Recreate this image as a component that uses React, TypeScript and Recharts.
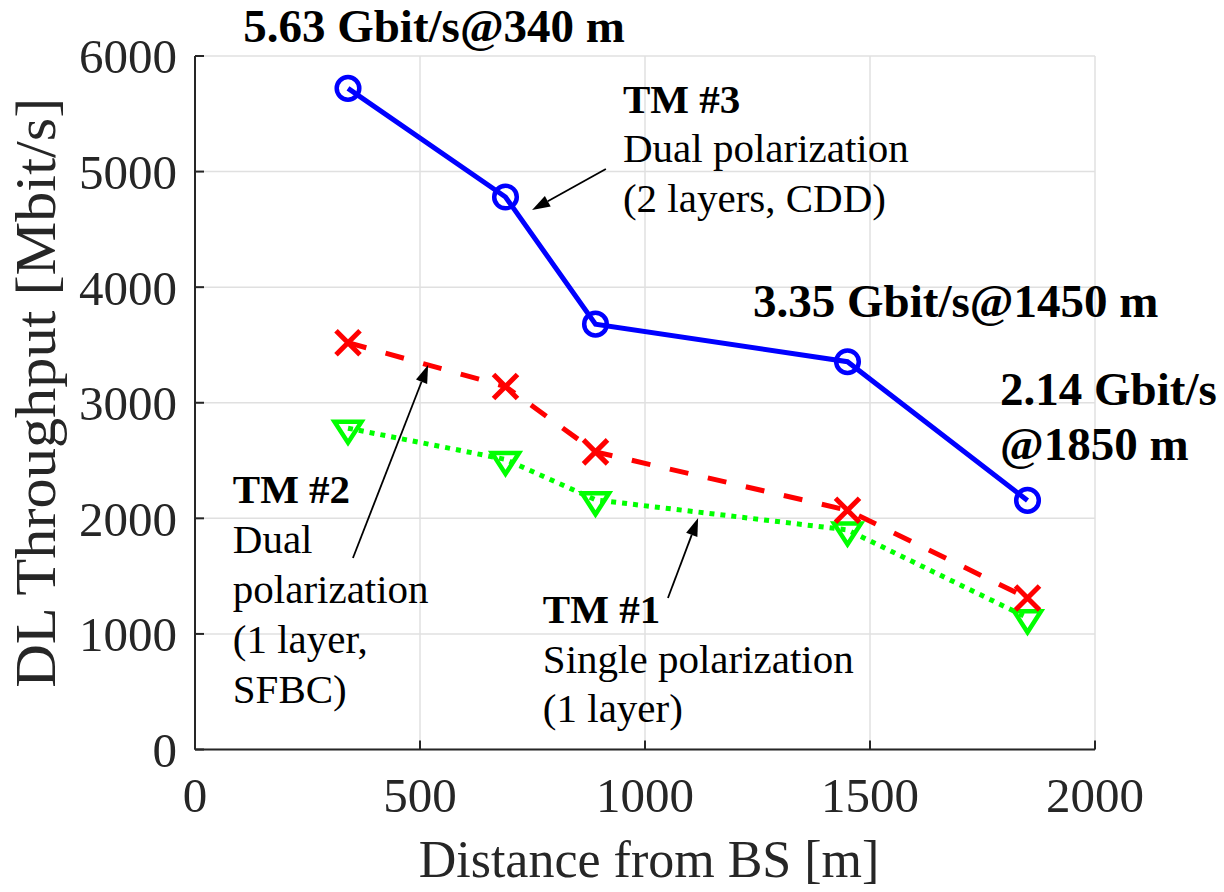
import React from "react";
import { CartesianGrid, Line, LineChart, ReferenceDot, ReferenceLine, XAxis, YAxis } from "recharts";

const distances = [340, 690, 890, 1450, 1850];
const tm3Throughput = [5720, 4780, 3680, 3355, 2155];
const tm2Throughput = [3520, 3140, 2575, 2070, 1310];
const tm1Throughput = [2780, 2510, 2160, 1900, 1140];

const xTicks = [0, 500, 1000, 1500, 2000];
const yTicks = [0, 1000, 2000, 3000, 4000, 5000, 6000];

type NoteLine = { text: string; bold?: boolean };
type Note = { x: number; y: number; size: number; gap: number; lines: NoteLine[] };

// text blocks, anchored at the first baseline (data coords)
const notes: Note[] = [
  { x: 107, y: 6121, size: 47, gap: 55, lines: [{ text: "5.63 Gbit/s@340 m", bold: true }] },
  { x: 1240, y: 3742, size: 47, gap: 55, lines: [{ text: "3.35 Gbit/s@1450 m", bold: true }] },
  {
    x: 1789, y: 2981, size: 47, gap: 55,
    lines: [{ text: "2.14 Gbit/s", bold: true }, { text: "@1850 m", bold: true }],
  },
  {
    x: 951, y: 5507, size: 41, gap: 49.5,
    lines: [{ text: "TM #3", bold: true }, { text: "Dual polarization" }, { text: "(2 layers, CDD)" }],
  },
  {
    x: 84, y: 2131, size: 41, gap: 50,
    lines: [
      { text: "TM #2", bold: true },
      { text: "Dual" },
      { text: "polarization" },
      { text: "(1 layer," },
      { text: "SFBC)" },
    ],
  },
  {
    x: 773, y: 1094, size: 41, gap: 49.5,
    lines: [{ text: "TM #1", bold: true }, { text: "Single polarization" }, { text: "(1 layer)" }],
  },
];

// arrows: [tail, tip]
const arrows = [
  [{ x: 913, y: 5023 }, { x: 749, y: 4668 }],
  [{ x: 351, y: 1657 }, { x: 518, y: 3327 }],
  [{ x: 1051, y: 1311 }, { x: 1118, y: 2003 }],
];

const data = distances.map((d, i) => ({
  distance: d,
  tm3: tm3Throughput[i],
  tm2: tm2Throughput[i],
  tm1: tm1Throughput[i],
}));

const FONT = '"Liberation Serif", "Times New Roman", serif';
const AXIS = "#262626";

function noteShape(note: Note) {
  return (props: any) => (
    <text x={props.cx} y={props.cy} fontFamily={FONT} fontSize={note.size} fill="#000">
      {note.lines.map((l, i) => (
        <tspan key={i} x={props.cx} dy={i === 0 ? 0 : note.gap} fontWeight={l.bold ? 700 : 400}>
          {l.text}
        </tspan>
      ))}
    </text>
  );
}

function arrowShape(props: any) {
  const { x1, y1, x2, y2 } = props;
  const a = Math.atan2(y2 - y1, x2 - x1);
  const len = 18;
  const half = 6;
  const bx = x2 - len * Math.cos(a);
  const by = y2 - len * Math.sin(a);
  const px = -Math.sin(a) * half;
  const py = Math.cos(a) * half;
  return (
    <g>
      <line x1={x1} y1={y1} x2={bx} y2={by} stroke="#000" strokeWidth={1.8} />
      <polygon points={`${x2},${y2} ${bx + px},${by + py} ${bx - px},${by - py}`} fill="#000" />
    </g>
  );
}

const circleDot = (p: any) => (
  <circle key={p.index} cx={p.cx} cy={p.cy} r={11.3} fill="none" stroke="#0000ff" strokeWidth={4.5} />
);

const crossDot = (p: any) => {
  const s = 12;
  return (
    <path
      key={p.index}
      d={`M${p.cx - s},${p.cy - s}L${p.cx + s},${p.cy + s}M${p.cx - s},${p.cy + s}L${p.cx + s},${p.cy - s}`}
      stroke="#ff0000"
      strokeWidth={5}
      fill="none"
    />
  );
};

const triangleDot = (p: any) => (
  <polygon
    key={p.index}
    points={`${p.cx - 13.5},${p.cy - 6.5} ${p.cx + 13.5},${p.cy - 6.5} ${p.cx},${p.cy + 14.5}`}
    fill="none"
    stroke="#00ff00"
    strokeWidth={4.5}
    strokeLinejoin="miter"
  />
);

export default function App() {
  return (
    <div style={{ position: "absolute", left: 0, top: 0, width: 1224, height: 892, background: "#fff" }}>
      <LineChart width={1224} height={892} data={data} margin={{ top: 56, right: 129, bottom: 42.5, left: 45 }}>
        <CartesianGrid stroke="#e0e0e0" strokeWidth={1.5} xAxisId="x" yAxisId="y" />
        <XAxis
          xAxisId="x"
          type="number"
          dataKey="distance"
          domain={[0, 2000]}
          ticks={xTicks}
          interval={0}
          height={100}
          tickSize={-9}
          tickMargin={37}
          axisLine={{ stroke: AXIS, strokeWidth: 2 }}
          tickLine={{ stroke: AXIS, strokeWidth: 2 }}
          tick={{ fontSize: 49, fontFamily: FONT, fill: AXIS }}
          label={(lp: any) => {
            const vb = lp.viewBox;
            return (
              <text x={vb.x + vb.width / 2 + 4} y={vb.y + 127.5} textAnchor="middle" fontFamily={FONT} fontSize={52} fill={AXIS}>
                Distance from BS [m]
              </text>
            );
          }}
        />
        <XAxis
          xAxisId="top"
          orientation="top"
          type="number"
          dataKey="distance"
          domain={[0, 2000]}
          ticks={xTicks}
          interval={0}
          height={0}
          tickSize={-9}
          tick={false}
          axisLine={{ stroke: AXIS, strokeWidth: 2 }}
          tickLine={{ stroke: AXIS, strokeWidth: 2 }}
        />
        <YAxis
          yAxisId="y"
          type="number"
          domain={[0, 6000]}
          ticks={yTicks}
          interval={0}
          width={150}
          tickSize={-9}
          tickMargin={27}
          axisLine={{ stroke: AXIS, strokeWidth: 2 }}
          tickLine={{ stroke: AXIS, strokeWidth: 2 }}
          tick={{ fontSize: 49, fontFamily: FONT, fill: AXIS }}
          label={(lp: any) => {
            const vb = lp.viewBox;
            const cx = 55;
            const cy = vb.y + vb.height / 2 - 10;
            return (
              <text
                x={cx}
                y={cy}
                transform={`rotate(-90 ${cx} ${cy})`}
                textAnchor="middle"
                fontFamily={FONT}
                fontSize={57}
                textLength={590}
                lengthAdjust="spacingAndGlyphs"
                fill={AXIS}
              >
                DL Throughput [Mbit/s]
              </text>
            );
          }}
        />
        <YAxis
          yAxisId="right"
          orientation="right"
          type="number"
          domain={[0, 6000]}
          ticks={yTicks}
          interval={0}
          width={0}
          tickSize={-9}
          tick={false}
          axisLine={{ stroke: AXIS, strokeWidth: 2 }}
          tickLine={{ stroke: AXIS, strokeWidth: 2 }}
        />
        <Line
          xAxisId="x"
          yAxisId="y"
          dataKey="tm1"
          stroke="#00ff00"
          strokeWidth={5}
          strokeDasharray="5 6"
          dot={triangleDot}
          isAnimationActive={false}
        />
        <Line
          xAxisId="x"
          yAxisId="y"
          dataKey="tm2"
          stroke="#ff0000"
          strokeWidth={5}
          strokeDasharray="19 20"
          dot={crossDot}
          isAnimationActive={false}
        />
        <Line
          xAxisId="x"
          yAxisId="y"
          dataKey="tm3"
          stroke="#0000ff"
          strokeWidth={5}
          dot={circleDot}
          isAnimationActive={false}
        />
        {arrows.map((seg, i) => (
          <ReferenceLine key={`a${i}`} xAxisId="x" yAxisId="y" segment={seg} ifOverflow="visible" shape={arrowShape} />
        ))}
        {notes.map((n, i) => (
          <ReferenceDot key={`n${i}`} xAxisId="x" yAxisId="y" x={n.x} y={n.y} r={0} ifOverflow="visible" shape={noteShape(n)} />
        ))}
      </LineChart>
    </div>
  );
}
